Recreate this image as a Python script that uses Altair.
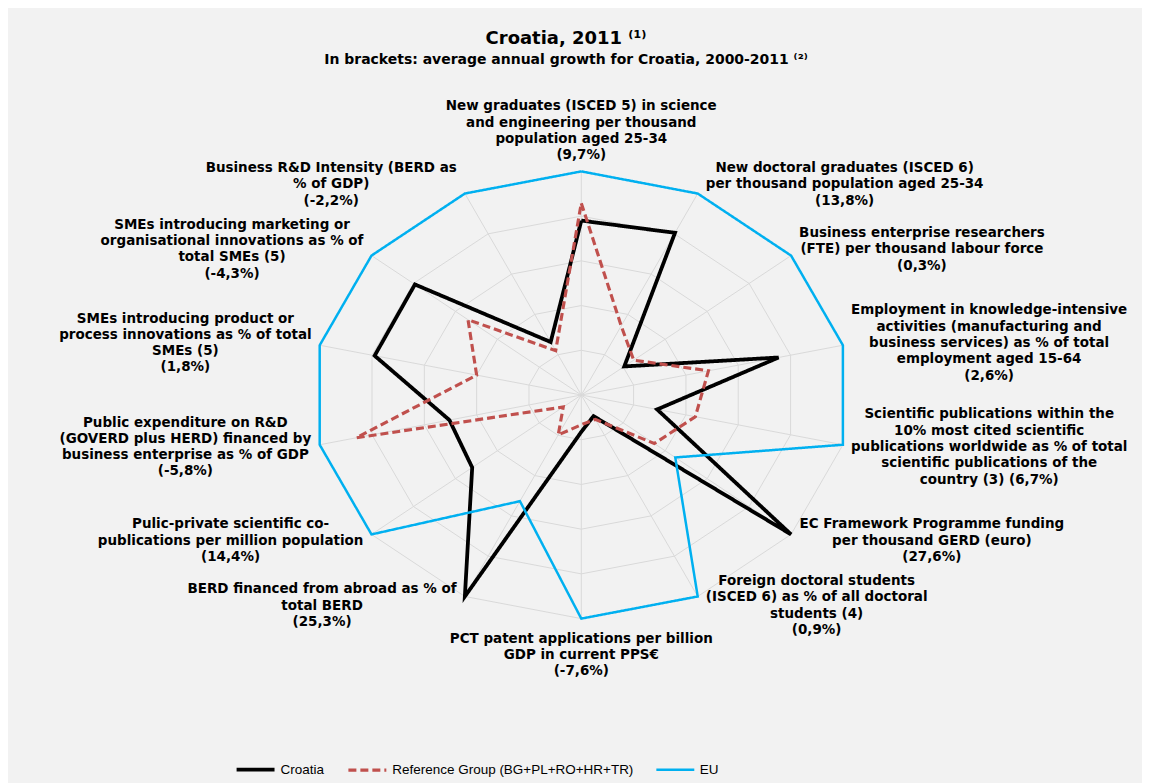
import altair as alt
import pandas as pd

# ---------------- data ----------------
categories = [
    ["New graduates (ISCED 5) in science", "and engineering per thousand", "population aged 25-34", "(9,7%)"],
    ["New doctoral graduates (ISCED 6)", "per thousand population aged 25-34", "(13,8%)"],
    ["Business enterprise researchers", "(FTE) per thousand labour force", "(0,3%)"],
    ["Employment in knowledge-intensive", "activities (manufacturing and", "business services) as % of total", "employment aged 15-64", "(2,6%)"],
    ["Scientific publications within the", "10% most cited scientific", "publications worldwide as % of total", "scientific publications of the", "country (3) (6,7%)"],
    ["EC Framework Programme funding", "per thousand GERD (euro)", "(27,6%)"],
    ["Foreign doctoral students", "(ISCED 6) as % of all doctoral", "students (4)", "(0,9%)"],
    ["PCT patent applications per billion", "GDP in current PPS€", "(-7,6%)"],
    ["BERD financed from abroad as % of", "total BERD", "(25,3%)"],
    ["Pulic-private scientific co-", "publications per million population", "(14,4%)"],
    ["Public expenditure on R&D", "(GOVERD plus HERD) financed by", "business enterprise as % of GDP", "(-5,8%)"],
    ["SMEs introducing product or", "process innovations as % of total", "SMEs (5)", "(1,8%)"],
    ["SMEs introducing marketing or", "organisational innovations as % of", "total SMEs (5)", "(-4,3%)"],
    ["Business R&D Intensity (BERD as", "% of GDP)", "(-2,2%)"],
]
croatia = [0.78, 0.805, 0.205, 0.754, 0.29, 1.0, 0.105, 0.165, 1.0, 0.52, 0.504, 0.79, 0.793, 0.263]
ref_group = [0.858, 0.343, 0.25, 0.486, 0.436, 0.348, 0.121, 0.133, 0.198, 0.086, 0.86, 0.40, 0.54, 0.22]
eu = [1.0, 1.0, 1.0, 1.0, 1.0, 0.448, 1.0, 1.0, 0.527, 1.0, 1.0, 1.0, 1.0, 1.0]
series_names = ["Croatia", "Reference Group (BG+PL+RO+HR+TR)", "EU"]
grid_levels = [0.2, 0.4, 0.6, 0.8, 1.0]

N = len(categories)

# ---------------- geometry / style ----------------
W_TOTAL, H_TOTAL, PAD_TOP = 1136, 775, 80
W, H = W_TOTAL, H_TOTAL - PAD_TOP
RY = 224.0            # px per unit vertically
RX = RY * 1.2         # px per unit horizontally (chart is stretched)
CXP, CYP = 574.3, 307.0  # centre in view pixels
x_dom = [-CXP / RX, (W - CXP) / RX]
y_dom = [-(H - CYP) / RY, CYP / RY]

FS = 13.5
LH = 16.3
LABEL_FONT = "DejaVu Sans"
SYM = 38  # legend line sample length (px)

# approximate advance widths of DejaVu Sans Bold (per 1000 em) for label block width
_w = {" ": 348, "!": 438, "%": 1002, "&": 872, "(": 457, ")": 457, "+": 838, ",": 380, "-": 415,
      ".": 380, "/": 365, "€": 696, "A": 774, "B": 762, "C": 734, "D": 830, "E": 683, "F": 683,
      "G": 821, "H": 837, "I": 372, "J": 372, "K": 775, "L": 637, "M": 995, "N": 837, "O": 850,
      "P": 733, "Q": 850, "R": 770, "S": 720, "T": 682, "U": 812, "V": 774, "W": 1103, "X": 771,
      "Y": 724, "Z": 725, "a": 675, "b": 716, "c": 593, "d": 716, "e": 678, "f": 435, "g": 716,
      "h": 712, "i": 343, "j": 343, "k": 665, "l": 343, "m": 1042, "n": 712, "o": 687, "p": 716,
      "q": 716, "r": 493, "s": 595, "t": 478, "u": 712, "v": 652, "w": 924, "x": 645, "y": 652,
      "z": 582}
for d in "0123456789":
    _w[d] = 696


def text_w(s, size):
    return sum(_w.get(ch, 650) for ch in s) / 1000.0 * size


# ---------------- tables ----------------
rows = []
for name, vals in zip(series_names, [croatia, ref_group, eu]):
    for i in range(N + 1):
        rows.append({"series": name, "idx": i, "r": vals[i % N]})
series_df = pd.DataFrame(rows)

ring_rows = []
for lv in grid_levels:
    for i in range(N + 1):
        ring_rows.append({"ring": lv, "idx": i, "r": lv})
rings_df = pd.DataFrame(ring_rows)

spoke_rows = []
for i in range(N):
    for rr in (0.0, 1.0):
        spoke_rows.append({"idx": i, "r": rr})
spokes_df = pd.DataFrame(spoke_rows)

lab_rows = []
for i, lines in enumerate(categories):
    n = len(lines)
    hw = max(text_w(l, FS) for l in lines) / 2.0
    lab_rows.append({"idx": i, "text": lines, "hw": (hw + 8.0) / RX,
                     "vt": (8.0 + n * LH / 2.0) / RY,
                     "vb": (12.0 + n * LH / 2.0) / RY,
                     "shift": (n - 1) * LH / 2.0 / RY})
labels_df = pd.DataFrame(lab_rows)

ang = f"datum.idx * 2 * PI / {N}"
xs = alt.Scale(domain=x_dom, nice=False, zero=False)
ys = alt.Scale(domain=y_dom, nice=False, zero=False)
X = alt.X("x:Q", scale=xs, axis=None)
Y = alt.Y("y:Q", scale=ys, axis=None)


def polar(ch):
    return ch.transform_calculate(
        x=f"datum.r * sin({ang})", y=f"datum.r * cos({ang})"
    )


grid_color = "#d9d9d9"
rings = polar(alt.Chart(rings_df)).mark_line(color=grid_color, strokeWidth=1).encode(
    x=X, y=Y, detail="ring:N", order="idx:Q")
spokes = polar(alt.Chart(spokes_df)).mark_line(color=grid_color, strokeWidth=1).encode(
    x=X, y=Y, detail="idx:N", order="r:Q")

lines = polar(alt.Chart(series_df)).mark_line(strokeJoin="miter").encode(
    x=X, y=Y,
    color=alt.Color("series:N",
                    scale=alt.Scale(domain=series_names, range=["#000000", "#c0504d", "#00b0f0"]),
                    legend=alt.Legend(title=None, orient="none", legendX=227, legendY=680 - SYM / 2,
                                      direction="horizontal", symbolType="stroke",
                                      symbolSize=SYM * SYM,
                                      labelFont="Liberation Sans", labelFontSize=13.5,
                                      labelColor="#000000", labelLimit=400, columnPadding=17,
                                      labelOffset=4, padding=0)),
    strokeDash=alt.StrokeDash("series:N",
                              scale=alt.Scale(domain=series_names, range=[[1, 0], [8, 4], [1, 0]])),
    strokeWidth=alt.StrokeWidth("series:N",
                                scale=alt.Scale(domain=series_names, range=[3.8, 2.5, 4])),
    order="idx:Q",
)

labels = alt.Chart(labels_df).transform_calculate(
    s=f"sin({ang})", c=f"cos({ang})"
).transform_calculate(
    x="abs(datum.s) < 0.1 ? 0 : datum.s + (datum.s > 0 ? 1 : -1) * datum.hw",
    y="datum.shift + (abs(datum.s) < 0.1 ? (datum.c > 0 ? 1 + datum.vt : -1 - datum.vb) : datum.c * 1.045)",
).mark_text(font=LABEL_FONT, fontWeight="bold", fontSize=FS, lineHeight=LH,
            align="center", baseline="middle", color="#000000").encode(
    x=X, y=Y, text="text:N")

chart = alt.layer(rings, spokes, lines, labels).properties(
    width=W, height=H,
    padding={"top": PAD_TOP, "left": 0, "right": 0, "bottom": 0},
    autosize=alt.AutoSizeParams(type="none"),
    title=alt.TitleParams(
        text="Croatia, 2011 ⁽¹⁾",
        subtitle="In brackets: average annual growth for Croatia, 2000-2011 ⁽²⁾",
        font=LABEL_FONT, fontSize=18, fontWeight="bold", color="#000000",
        subtitleFont=LABEL_FONT, subtitleFontSize=14, subtitleFontWeight="bold",
        subtitleColor="#000000", subtitlePadding=5, anchor="middle", offset=22, dx=-9),
).configure(background="#f2f2f2").configure_view(stroke=None)

chart.save("out.html", embed_options={"renderer": "svg", "actions": False})
